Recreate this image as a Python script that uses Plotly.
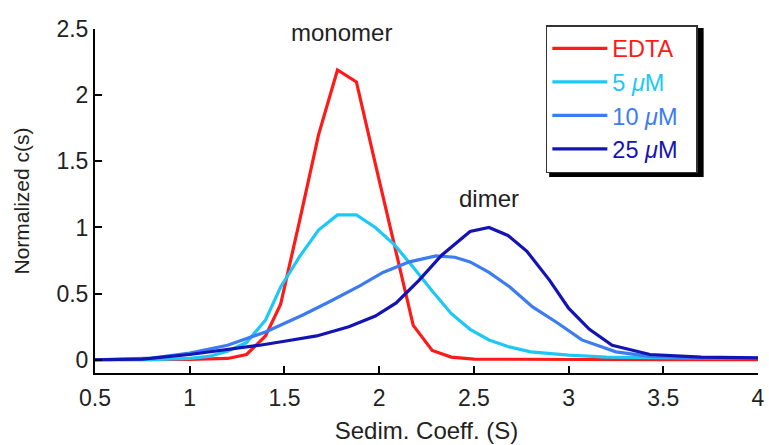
import plotly.graph_objects as go

# ---- data ----
x_edta = [0.5, 0.8, 1.0, 1.2, 1.3, 1.4, 1.48, 1.58, 1.68, 1.78, 1.88, 1.98, 2.08, 2.18, 2.28, 2.38, 2.5, 3.0, 3.5, 4.0]
y_edta = [0.0, 0.0, 0.002, 0.01, 0.04, 0.18, 0.42, 1.05, 1.70, 2.19, 2.10, 1.48, 0.87, 0.26, 0.07, 0.02, 0.005, 0.0, 0.0, 0.0]

x_5uM = [0.5, 0.8, 1.0, 1.1, 1.2, 1.3, 1.4, 1.48, 1.58, 1.68, 1.78, 1.88, 1.98, 2.08, 2.18, 2.28, 2.38, 2.48, 2.58, 2.68, 2.8, 3.0, 3.2, 3.5, 4.0]
y_5uM = [0.0, 0.0, 0.01, 0.025, 0.065, 0.13, 0.30, 0.55, 0.78, 0.98, 1.095, 1.095, 1.00, 0.87, 0.70, 0.52, 0.35, 0.23, 0.15, 0.10, 0.06, 0.035, 0.02, 0.015, 0.01]

x_10uM = [0.5, 0.8, 1.0, 1.2, 1.4, 1.6, 1.74, 1.9, 2.02, 2.16, 2.3, 2.4, 2.48, 2.58, 2.69, 2.81, 2.94, 3.07, 3.25, 3.43, 3.7, 4.0]
y_10uM = [0.0, 0.012, 0.05, 0.11, 0.21, 0.34, 0.44, 0.56, 0.66, 0.74, 0.785, 0.775, 0.74, 0.66, 0.55, 0.40, 0.28, 0.15, 0.06, 0.025, 0.015, 0.01]

x_25uM = [0.5, 0.75, 1.0, 1.2, 1.37, 1.5, 1.67, 1.84, 1.98, 2.09, 2.21, 2.33, 2.48, 2.58, 2.68, 2.78, 2.9, 3.0, 3.11, 3.23, 3.43, 3.7, 4.0]
y_25uM = [0.0, 0.005, 0.04, 0.075, 0.11, 0.14, 0.18, 0.25, 0.33, 0.43, 0.60, 0.79, 0.97, 1.00, 0.94, 0.82, 0.60, 0.39, 0.23, 0.11, 0.04, 0.02, 0.015]

series_names = ["EDTA", "5 <i>μ</i>M", "10 <i>μ</i>M", "25 <i>μ</i>M"]
series_colors = ["#ff1a1a", "#1ec8f5", "#3c7cf0", "#1414b4"]
series_x = [x_edta, x_5uM, x_10uM, x_25uM]
series_y = [y_edta, y_5uM, y_10uM, y_25uM]

x_ticks = [0.5, 1, 1.5, 2, 2.5, 3, 3.5, 4]
x_ticklabels = ["0.5", "1", "1.5", "2", "2.5", "3", "3.5", "4"]
y_ticks = [0, 0.5, 1, 1.5, 2, 2.5]
y_ticklabels = ["0", "0.5", "1", "1.5", "2", "2.5"]

FONT = "Liberation Sans, Arial, Helvetica, sans-serif"

fig = go.Figure()
for name, col, xs, ys in zip(series_names, series_colors, series_x, series_y):
    fig.add_trace(go.Scatter(
        x=xs, y=ys, mode="lines",
        name=f"<span style='color:{col}'>{name}&nbsp;&nbsp;</span>",
        line=dict(color=col, width=3.2),
    ))

L, R, T, B = 95, 11, 29, 72
W, H = 769, 445

fig.add_annotation(x=1.8, y=2.47, text="monomer", showarrow=False,
                   font=dict(size=24, color="#222222", family=FONT))
fig.add_annotation(x=2.58, y=1.22, text="dimer", showarrow=False,
                   font=dict(size=24, color="#222222", family=FONT))

fig.update_layout(
    width=W, height=H, autosize=False,
    margin=dict(l=L, r=R, t=T, b=B, autoexpand=False),
    paper_bgcolor="white", plot_bgcolor="white",
    font=dict(family=FONT, size=23, color="#222222"),
    showlegend=True,
    legend=dict(
        x=0.68, y=1.0116, xanchor="left", yanchor="top",
        bgcolor="white", bordercolor="#333333", borderwidth=1.5,
        font=dict(size=23.5, family=FONT),
        itemwidth=55,
    ),
    xaxis=dict(
        range=[0.5, 4], tickvals=x_ticks, ticktext=x_ticklabels,
        showgrid=False, zeroline=False, automargin=False,
        showline=True, linecolor="black", linewidth=2,
        ticks="inside", ticklen=7, tickwidth=2, tickcolor="black",
        ticklabelstandoff=3,
        tickfont=dict(size=23, family=FONT, color="#222222"),
        title=dict(text="Sedim. Coeff. (S)", font=dict(size=24), standoff=13),
    ),
    yaxis=dict(
        range=[-0.1, 2.5], tickvals=y_ticks, ticktext=y_ticklabels,
        showgrid=False, zeroline=False, automargin=False,
        showline=True, linecolor="black", linewidth=2,
        ticks="inside", ticklen=7, tickwidth=2, tickcolor="black",
        tickfont=dict(size=23, family=FONT, color="#222222"),
        title=dict(text="Normalized c(s)", font=dict(size=21), standoff=21),
    ),
)

# legend drop shadow (placed relative to the legend box, in paper units)
fig.add_shape(type="rect", xref="paper", yref="paper",
              x0=0.685, x1=0.918, y0=0.57, y1=1.003,
              fillcolor="black", line=dict(width=0), layer="above")

fig.write_html("out.html", config={"displayModeBar": False},
               post_script="document.body.style.margin='0px';document.body.style.overflow='hidden';")
